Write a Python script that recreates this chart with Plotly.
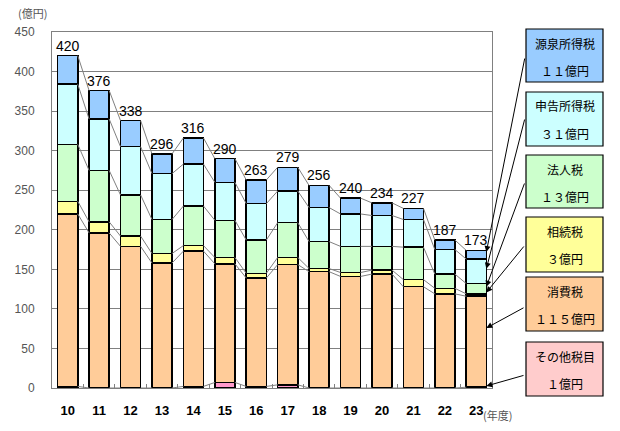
import plotly.graph_objects as go

# ---- data ----
years = ["10", "11", "12", "13", "14", "15", "16", "17", "18", "19", "20", "21", "22", "23"]
other = [2, 0, 0, 0, 2, 7, 2, 4, 0, 0, 0, 0, 0, 1]           # その他税目
consumption = [218, 196, 179, 158, 171, 150, 137, 152, 147, 141, 144, 128, 119, 115]  # 消費税
inheritance = [16, 14, 13, 12, 7, 8, 6, 9, 4, 5, 5, 9, 7, 3]  # 相続税
corporate = [72, 65, 52, 43, 50, 47, 42, 44, 34, 33, 30, 41, 18, 13]  # 法人税
self_income = [76, 65, 61, 58, 53, 48, 46, 40, 43, 41, 39, 35, 31, 31]  # 申告所得税
withholding = [36, 36, 33, 25, 33, 30, 30, 30, 28, 20, 16, 14, 12, 11]  # 源泉所得税
totals = [420, 376, 338, 296, 316, 290, 263, 279, 256, 240, 234, 227, 187, 173]

box_names = ["源泉所得税", "申告所得税", "法人税", "相続税", "消費税", "その他税目"]
box_values = ["１１億円", "３１億円", "１３億円", "３億円", "１１５億円", "１億円"]

# ---- styling ----
FONT = "Liberation Sans, Arial, Noto Sans CJK JP"
JFONT = "Noto Sans CJK JP, Liberation Sans"
W, H = 620, 431
L, R, T, B = 52, 128, 32, 43
PW, PH = W - L - R, H - T - B
bw = 0.64

series = [
    ("その他税目", other, "#FF99CC"),
    ("消費税", consumption, "#FFCC99"),
    ("相続税", inheritance, "#FFFF99"),
    ("法人税", corporate, "#CCFFCC"),
    ("申告所得税", self_income, "#CCFFFF"),
    ("源泉所得税", withholding, "#99CCFF"),
]

x = list(range(len(years)))
fig = go.Figure()
cum = [0] * len(years)
levels = []
bottoms = []
for name, vals, col in series:
    bottoms.append(cum[:])
    fig.add_bar(x=x, y=vals, name=name, width=bw,
                marker=dict(color=col, line=dict(color="black", width=1.5)),
                hoverinfo="skip")
    cum = [c + v for c, v in zip(cum, vals)]
    levels.append(cum[:])

# series lines
lx, ly = [], []
for lev in levels:
    for i in range(len(years) - 1):
        lx += [i + bw / 2, i + 1 - bw / 2, None]
        ly += [lev[i], lev[i + 1], None]
fig.add_scatter(x=lx, y=ly, mode="lines", line=dict(color="#808080", width=1),
                hoverinfo="skip", showlegend=False)

ann = []
for i, t in enumerate(totals):
    ann.append(dict(x=i, y=levels[-1][i], text=str(t), showarrow=False, yanchor="bottom",
                    font=dict(family=FONT, size=14, color="black"), yshift=0))

def px_x(p):
    return (p - L) / PW

def px_y(p):
    return (H - B - p) / PH

def dx(p):  # pixel x -> data x
    return (p - L) * len(years) / PW - 0.5

def dy(p):  # pixel y -> data y
    return (H - B - p) * 450 / PH

shapes = []
box_colors = ["#99CCFF", "#CCFFFF", "#CCFFCC", "#FFFF99", "#FFCC99", "#FFCCCC"]
box_tops = [29, 92, 155, 217, 277, 342]
box_bots = [82, 146, 208, 272, 331, 396]
bx0, bx1 = 526, 603
for k in range(6):
    shapes.append(dict(type="rect", xref="paper", yref="paper",
                       x0=px_x(bx0), x1=px_x(bx1), y0=px_y(box_bots[k]), y1=px_y(box_tops[k]),
                       fillcolor=box_colors[k], line=dict(color="black", width=1.2)))
    top = box_tops[k]
    ann.append(dict(xref="paper", yref="paper", x=px_x((bx0 + bx1) / 2), y=px_y(top + 14),
                    text=box_names[k], showarrow=False, xanchor="center", yanchor="middle",
                    font=dict(family=JFONT, size=12, color="black")))
    ann.append(dict(xref="paper", yref="paper", x=px_x((bx0 + bx1) / 2), y=px_y(top + 41),
                    text=box_values[k], showarrow=False, xanchor="center", yanchor="middle",
                    font=dict(family=JFONT, size=12, color="black")))

# arrows from boxes to last bar's segments (blue, cyan, green, yellow, orange, other)
seg_order = [5, 4, 3, 2, 1, 0]
tip_frac = [0.8, 0.6, 0.7, 1.6, 0.65, 2.5]
src_y = [57, 118, 182, 245, 307, 375]
last = len(years) - 1
tip_xd = last + bw / 2
for k in range(6):
    s = seg_order[k]
    b0 = bottoms[s][last]
    h = series[s][1][last]
    v = b0 + tip_frac[k] * h
    ann.append(dict(x=tip_xd, y=v, xref="x", yref="y", axref="x", ayref="y",
                    ax=dx(525), ay=dy(src_y[k]), text="", showarrow=True,
                    arrowhead=2, arrowsize=1.2, arrowwidth=1, arrowcolor="black", standoff=0))

ann.append(dict(xref="paper", yref="paper", x=px_x(32), y=px_y(13), text="(億円)",
                xanchor="center", yanchor="middle",
                showarrow=False, font=dict(family=JFONT, size=11, color="#555555")))
ann.append(dict(xref="paper", yref="paper", x=px_x(497), y=px_y(415), text="(年度)",
                xanchor="center", yanchor="middle",
                showarrow=False, font=dict(family=JFONT, size=11, color="#555555")))

fig.update_layout(
    width=W, height=H, barmode="stack", bargap=0.36,
    margin=dict(l=L, r=R, t=T, b=B, pad=0, autoexpand=False),
    plot_bgcolor="white", paper_bgcolor="white", showlegend=False,
    annotations=ann, shapes=shapes,
)
fig.update_xaxes(range=[-0.5, len(years) - 0.5], tickvals=x, ticktext=years, automargin=False,
                 showgrid=False, showline=True, linecolor="#808080", linewidth=1, mirror=True,
                 ticks="", ticklabelstandoff=10,
                 tickfont=dict(family=FONT, size=13, color="black", weight="bold"),
                 minor=dict(tickvals=[i + 0.5 for i in range(len(years) - 1)], ticks="inside",
                            ticklen=4, tickcolor="#808080", showgrid=False))
fig.update_yaxes(range=[0, 450], dtick=50, showgrid=True, gridcolor="#808080", gridwidth=1,
                 automargin=False,
                 showline=True, linecolor="#808080", linewidth=1, mirror=True, zeroline=False,
                 ticks="", ticklabelstandoff=14,
                 tickfont=dict(family=FONT, size=12, color="#555555"))

fig.write_html("out.html", config={"displayModeBar": False},
               post_script="document.body.style.margin='0';document.body.style.overflow='hidden';")
